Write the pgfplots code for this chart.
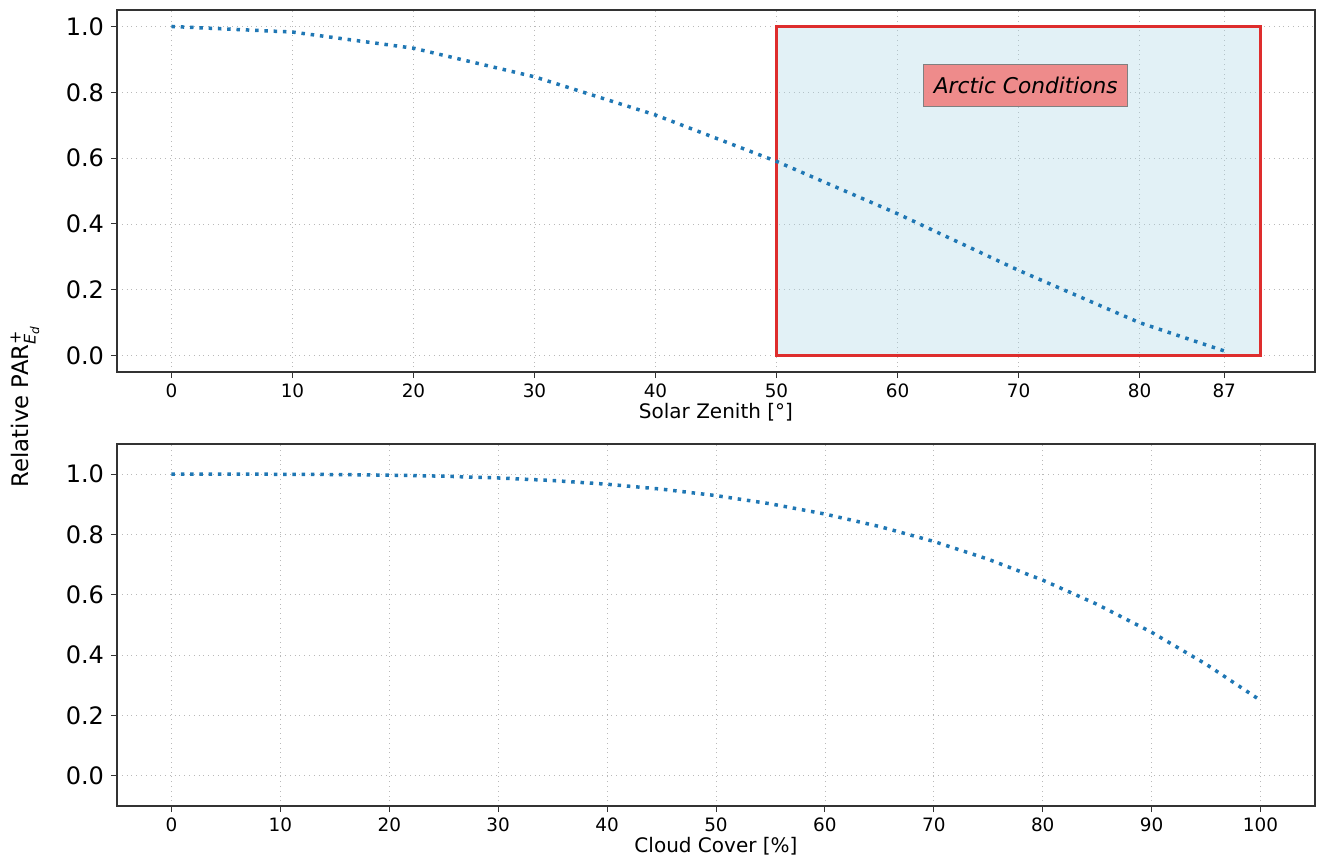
\documentclass[border=0pt]{standalone}
\usepackage{fontspec}
\setmainfont{DejaVu Sans}
\usepackage{pgfplots}
\pgfplotsset{compat=1.18}
\definecolor{mplblue}{HTML}{1F77B4}
\definecolor{boxedge}{RGB}{222,45,45}
\definecolor{boxfill}{HTML}{ADD8E6}
\definecolor{coral}{HTML}{F08080}
\pgfplotsset{
  mpl/.style={
    scale only axis, width=599pt, height=181pt,
    axis line style={black!80, line width=0.6pt},
    tick align=outside, xtick pos=bottom, ytick pos=left,
    major tick length=3pt, tick style={black!80, line width=0.5pt},
    grid=major, major grid style={dotted, gray!55, line width=0.4pt},
    /pgf/number format/assume math mode=true,
    xticklabel style={font=\fontsize{9.2}{11}\selectfont, yshift=0.5pt},
    yticklabel style={font=\fontsize{12}{14}\selectfont,
      /pgf/number format/.cd, fixed, fixed zerofill, precision=1},
    ytick={0,0.2,0.4,0.6,0.8,1.0},
    xlabel style={font=\fontsize{10}{12}\selectfont, yshift=4.2pt},
  },
  curve/.style={mplblue, line width=1.75pt, dash pattern=on 1.75pt off 2.9pt, line cap=butt, mark=none},
}
\begin{document}
\begin{tikzpicture}
\useasboundingbox (-58.5pt,-243.5pt) rectangle (600.5pt,186pt);
\begin{axis}[mpl,
  xmin=-4.5, xmax=94.5, ymin=-0.05, ymax=1.05,
  xtick={0,10,20,30,40,50,60,70,80,87},
  xlabel={Solar Zenith [°]},
]
\addplot[draw=boxedge, line width=1.4pt, fill=boxfill, fill opacity=0.35]
  coordinates {(50,0) (90,0) (90,1) (50,1)} -- cycle;
\addplot[curve] coordinates {
(0,1.0) (10,0.983) (20,0.934) (30,0.847) (40,0.731) (50,0.590)
(60,0.431) (70,0.259) (80,0.100) (87,0.014)};
\node[fill=coral, fill opacity=0.9, text opacity=1, draw=gray, line width=0.5pt,
  font=\fontsize{10.85}{13}\selectfont\itshape,
  inner sep=0.5em, text height=0.95em, text depth=0.17em]
  at (axis cs:70.6,0.82) {Arctic Conditions};
\end{axis}
\begin{axis}[mpl, at={(0,-217pt)},
  xmin=-5, xmax=105, ymin=-0.1, ymax=1.1,
  xtick={0,10,20,30,40,50,60,70,80,90,100},
  xlabel={Cloud Cover [\%]},
]
\addplot[curve] coordinates {
(0,1.0) (5,1.0) (10,0.9997) (15,0.9988) (20,0.9968) (25,0.9933) (30,0.9875)
(35,0.9789) (40,0.9667) (45,0.9504) (50,0.929) (55,0.9018) (60,0.8679)
(65,0.8266) (70,0.777) (75,0.718) (80,0.6488) (85,0.5684) (90,0.4758)
(95,0.370) (100,0.25)};
\end{axis}
\node[rotate=90, font=\fontsize{11.4}{14}\selectfont] at (-46pt,-17pt)
  {Relative PAR$^{\mbox{\fontsize{8}{9}\selectfont +}}_{\mbox{\fontsize{8}{9}\selectfont\itshape E}_{\mbox{\fontsize{6}{7}\selectfont\itshape d}}}$};
\end{tikzpicture}
\end{document}
